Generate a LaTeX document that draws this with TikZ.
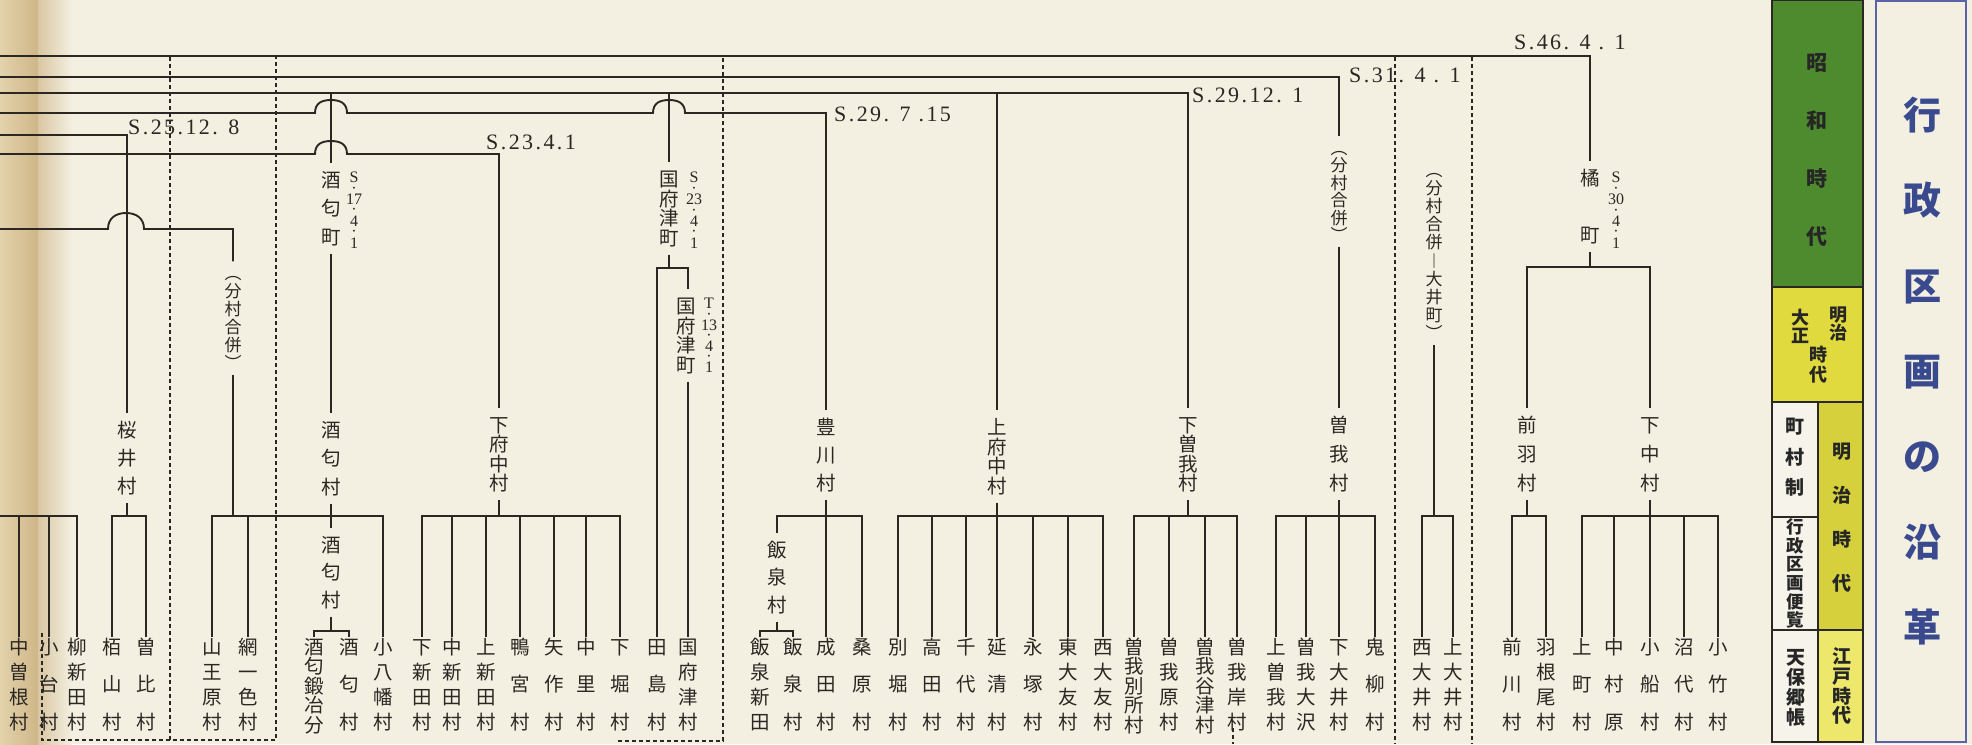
\documentclass[tikz,border=0pt]{standalone}
\usepackage{fontspec}
\newfontfamily\jp{Noto Sans CJK JP}
\newfontfamily\sr{Liberation Serif}
\newfontfamily\srls[LetterSpace=11]{Liberation Serif}
\definecolor{paper}{HTML}{F3EFE1}
\definecolor{ink}{HTML}{2B2824}
\definecolor{tanA}{HTML}{E3D2AC}
\definecolor{tanB}{HTML}{CFB687}
\definecolor{showa}{HTML}{4E8B2F}
\definecolor{taisho}{HTML}{E0DA3E}
\definecolor{meiji}{HTML}{D6D03C}
\definecolor{edo}{HTML}{EDE86C}
\definecolor{ttl}{HTML}{3A4A8E}
\definecolor{ttlb}{HTML}{5A63A6}
\definecolor{pnl}{HTML}{F6F3EA}
\makeatletter
\def\vstrut{\vrule height.88em depth.12em width0pt\relax}
\def\vcw{1.1em}
\newcommand\vc[1]{\hbox to \vcw{\hss\vstrut#1\hss}}
\def\vlabA#1#2{\vc{#1}\ifx\relax#2\expandafter\@gobble\else\vfill\expandafter\vlabA\fi{#2}}
\newcommand\vlab[2]{\vbox to #1{\offinterlineskip\expandafter\vlabA#2\relax\kern0pt}}
\newcommand\vdat[2]{\vbox to #1{\offinterlineskip\def\vcw{1.0em}\def\vstrut{\vrule height.6em depth0pt width0pt\relax}\expandafter\vlabA#2\relax\kern0pt}}
\makeatother
\tikzset{
  ln/.style={draw=ink, line width=1.9pt},
  dsh/.style={draw=ink, line width=1.2pt, dash pattern=on 4pt off 3pt},
  lf/.style={inner sep=0pt, text=ink, font=\jp\fontsize{19.5}{19.5}\selectfont},
  pr/.style={inner xsep=0pt, inner ysep=7pt, text=ink, font=\jp\fontsize{19.5}{19.5}\selectfont},
  pl/.style={inner xsep=0pt, inner ysep=3pt, text=ink, font=\jp\fontsize{17}{17}\selectfont},
  dt/.style={inner sep=0pt, text=ink, font=\sr\fontsize{16}{16}\selectfont},
  hd/.style={inner sep=0pt, anchor=west, text=ink, font=\srls\fontsize{22}{22}\selectfont},
  pn/.style={inner sep=0pt, text=black!85, font=\jp\bfseries\fontsize{19}{19}\selectfont},
  tt/.style={inner sep=0pt, text=ttl, font=\jp\bfseries\fontsize{38}{38}\selectfont},
  pbox/.style={draw=ink, line width=1.2pt},
}
\begin{document}
\begin{tikzpicture}[x=1pt,y=-1pt]
\useasboundingbox (0,0) rectangle (1972,744);
\fill[paper] (0,0) rectangle (1972,744);
\shade[left color=tanA, right color=tanB] (0,0) rectangle (38,744);
\shade[left color=tanB!70!paper, right color=paper] (38,0) rectangle (72,744);

% region borders (dashed)
\draw[dsh] (42,633) -- (42,740) -- (276,740) -- (276,57);
\draw[dsh] (170,57) -- (170,740);
\draw[dsh] (618,741) -- (723,741) -- (723,57);
\draw[dsh] (1233,728) -- (1233,744);
\draw[dsh] (1395,57) -- (1395,744);
\draw[dsh] (1472,57) -- (1472,744);

% coordinates
\coordinate (A0) at (0,56);   \coordinate (A1) at (1590,56);
\coordinate (B0) at (0,77);   \coordinate (B1) at (1339,77);
\coordinate (C0) at (0,93);   \coordinate (C1) at (1188,93);
\coordinate (Ca) at (331,93); \coordinate (Cb) at (669,93); \coordinate (Cc) at (997,93);
\coordinate (D0) at (0,113);  \coordinate (D1) at (826,113);
\coordinate (E0) at (0,135);  \coordinate (E1) at (127,135);
\coordinate (F0) at (0,154);  \coordinate (F1) at (499,154);
\coordinate (G0) at (0,229);  \coordinate (G1) at (233,229);
\coordinate (H0) at (0,516);
\coordinate (bk) at (0,516);
\coordinate (bk2) at (0,631);
\coordinate (bk3) at (0,268);
\coordinate (bk4) at (0,267);

% date labels
\node[hd] (d46) at (1514,42) {S.46. 4 . 1};
\node[hd] (d31) at (1349,75) {S.31. 4 . 1};
\node[hd] (d2912) at (1192,95) {S.29.12. 1};
\node[hd] (d297) at (834,114) {S.29. 7 .15};
\node[hd] (d25) at (128,127) {S.25.12. 8};
\node[hd] (d23) at (486,142) {S.23.4.1};

% leaves
\foreach \nm/\x/\t in {n1/19/中曽根村,n2/49/小台村,n3/77/柳新田村,n4/112/栢山村,n5/146/曽比村,n6/212/山王原村,n7/248/網一色村,n8/383/小八幡村,n9/314/酒匂鍛冶分,n10/349/酒匂村,n11/422/下新田村,n12/452/中新田村,n13/486/上新田村,n14/520/鴨宮村,n15/554/矢作村,n16/586/中里村,n17/620/下堀村,n18/657/田島村,n19/688/国府津村,n20/760/飯泉新田,n21/793/飯泉村,n22/826/成田村,n23/862/桑原村,n24/898/別堀村,n25/932/高田村,n26/966/千代村,n27/997/延清村,n28/1033/永塚村,n29/1068/東大友村,n30/1103/西大友村,n31/1134/曽我別所村,n32/1169/曽我原村,n33/1205/曽我谷津村,n34/1237/曽我岸村,n35/1276/上曽我村,n36/1306/曽我大沢,n37/1339/下大井村,n38/1375/鬼柳村,n39/1422/西大井村,n40/1453/上大井村,n41/1512/前川村,n42/1546/羽根尾村,n43/1582/上町村,n44/1614/中村原,n45/1650/小船村,n46/1684/沼代村,n47/1718/小竹村}
  \node[lf] (\nm) at (\x,684.5) {\vlab{95pt}{\t}};

% parents
\node[pr] (sakurai) at (127,458) {\vlab{76pt}{桜井村}};
\node[pr] (sakA) at (331,458.5) {\vlab{76pt}{酒匂村}};
\node[pr] (sakB) at (331,572.5) {\vlab{74pt}{酒匂村}};
\node[pr] (shimofunaka) at (499,454) {\vlab{78pt}{下府中村}};
\node[pr] (toyokawa) at (826,455) {\vlab{76pt}{豊川村}};
\node[pr] (iizumi) at (777,577.5) {\vlab{74pt}{飯泉村}};
\node[pr] (kamifunaka) at (997,456.5) {\vlab{78pt}{上府中村}};
\node[pr] (shimosoga) at (1188,454) {\vlab{78pt}{下曽我村}};
\node[pr] (soga) at (1339,454) {\vlab{77pt}{曽我村}};
\node[pr] (maeba) at (1527,454) {\vlab{77pt}{前羽村}};
\node[pr] (shimonaka) at (1650,454) {\vlab{77pt}{下中村}};
\node[pr] (sakawamachi) at (331,208.5) {\vlab{76pt}{酒匂町}};
\node[pr] (kozumachi) at (669,208.5) {\vlab{78pt}{国府津町}};
\node[pr] (kozuT) at (686,335.5) {\vlab{78pt}{国府津町}};
\node[pr] (tachi) at (1590,206.5) {\vlab{76pt}{橘町}};
\node[pl] (bunG) at (233,318) {\vlab{107pt}{︵分村合併︶}};
\node[pl] (bunB) at (1339,191.5) {\vlab{104pt}{︵分村合併︶}};
\node[pl] (oi) at (1434,251.5) {\vlab{180pt}{︵分村合併︱大井町︶}};
\node[dt] (dsak) at (354,210) {\vdat{76pt}{S·{17}·4·1}};
\node[dt] (dkoz) at (694,210) {\vdat{76pt}{S·{23}·4·1}};
\node[dt] (dkozT) at (709,335.5) {\vdat{74pt}{T·{13}·4·1}};
\node[dt] (dtachi) at (1616,210) {\vdat{76pt}{S·{30}·4·1}};

% group 1
\draw[ln] (H0) -- (n3.north |- bk) -- (n3.north);
\draw[ln] (n1.north) -- (n1.north |- bk);
\draw[ln] (n2.north) -- (n2.north |- bk);
% sakurai
\draw[ln] (E0) -- (E1) -- (sakurai.north);
\draw[ln] (sakurai.south) -- (sakurai.south |- bk);
\draw[ln] (n4.north) -- (n4.north |- bk) -- (n5.north |- bk) -- (n5.north);
% bunson gappei (left)
\draw[ln] (G0) -- (108,229) .. controls (108,218) and (116,213) .. (126,213) .. controls (136,213) and (144,218) .. (144,229) -- (G1) -- (bunG.north);
\draw[ln] (bunG.south) -- (bunG.south |- bk);
\draw[ln] (n6.north) -- (n6.north |- bk) -- (n8.north |- bk) -- (n8.north);
\draw[ln] (n7.north) -- (n7.north |- bk);
% sakawa
\draw[ln] (Ca) -- (sakawamachi.north);
\draw[ln] (sakawamachi.south) -- (sakA.north);
\draw[ln] (sakA.south) -- (sakB.north);
\draw[ln] (sakB.south) -- (sakB.south |- bk2);
\draw[ln] (n9.north) -- (n9.north |- bk2) -- (n10.north |- bk2) -- (n10.north);
% shimofunaka
\draw[ln] (F0) -- (315,154) .. controls (315,144) and (322,141) .. (331,141) .. controls (340,141) and (347,144) .. (347,154) -- (F1) -- (shimofunaka.north);
\draw[ln] (shimofunaka.south) -- (shimofunaka.south |- bk);
\draw[ln] (n11.north) -- (n11.north |- bk) -- (n17.north |- bk) -- (n17.north);
\foreach \m in {n12,n13,n14,n15,n16} \draw[ln] (\m.north) -- (\m.north |- bk);
% kozu
\draw[ln] (Cb) -- (kozumachi.north);
\draw[ln] (kozumachi.south) -- (kozumachi.south |- bk3);
\draw[ln] (n18.north) -- (n18.north |- bk3) -- (n19.north |- bk3) -- (n19.north |- kozuT.north);
\draw[ln] (n19.north |- kozuT.south) -- (n19.north);
% toyokawa
\draw[ln] (D0) -- (315,113) .. controls (315,103) and (322,100) .. (331,100) .. controls (340,100) and (347,103) .. (347,113) -- (653,113) .. controls (653,103) and (660,100) .. (669,100) .. controls (678,100) and (685,103) .. (685,113) -- (D1) -- (toyokawa.north);
\draw[ln] (toyokawa.south) -- (n22.north);
\draw[ln] (iizumi.north) -- (iizumi.north |- bk) -- (n23.north |- bk) -- (n23.north);
\draw[ln] (iizumi.south) -- (iizumi.south |- bk2);
\draw[ln] (n20.north) -- (n20.north |- bk2) -- (n21.north |- bk2) -- (n21.north);
% kamifunaka
\draw[ln] (Cc) -- (kamifunaka.north);
\draw[ln] (kamifunaka.south) -- (n27.north);
\draw[ln] (n24.north) -- (n24.north |- bk) -- (n30.north |- bk) -- (n30.north);
\foreach \m in {n25,n26,n28,n29} \draw[ln] (\m.north) -- (\m.north |- bk);
% shimosoga
\draw[ln] (C0) -- (C1) -- (shimosoga.north);
\draw[ln] (shimosoga.south) -- (shimosoga.south |- bk);
\draw[ln] (n31.north) -- (n31.north |- bk) -- (n34.north |- bk) -- (n34.north);
\foreach \m in {n32,n33} \draw[ln] (\m.north) -- (\m.north |- bk);
% soga
\draw[ln] (B0) -- (B1) -- (bunB.north);
\draw[ln] (bunB.south) -- (soga.north);
\draw[ln] (soga.south) -- (n37.north);
\draw[ln] (n35.north) -- (n35.north |- bk) -- (n38.north |- bk) -- (n38.north);
\draw[ln] (n36.north) -- (n36.north |- bk);
% oi
\draw[ln] (oi.south) -- (oi.south |- bk);
\draw[ln] (n39.north) -- (n39.north |- bk) -- (n40.north |- bk) -- (n40.north);
% tachibana
\draw[ln] (A0) -- (A1) -- (tachi.north);
\draw[ln] (tachi.south) -- (tachi.south |- bk4);
\draw[ln] (maeba.north) -- (maeba.north |- bk4) -- (shimonaka.north |- bk4) -- (shimonaka.north);
\draw[ln] (maeba.south) -- (maeba.south |- bk);
\draw[ln] (n41.north) -- (n41.north |- bk) -- (n42.north |- bk) -- (n42.north);
\draw[ln] (shimonaka.south) -- (n45.north);
\draw[ln] (n43.north) -- (n43.north |- bk) -- (n47.north |- bk) -- (n47.north);
\foreach \m in {n44,n46} \draw[ln] (\m.north) -- (\m.north |- bk);

% era panel
\fill[showa] (1772,0) rectangle (1863,287);
\fill[taisho] (1772,287) rectangle (1863,402);
\fill[pnl] (1772,402) rectangle (1818,742);
\fill[meiji] (1818,402) rectangle (1863,630);
\fill[edo] (1818,630) rectangle (1863,742);
\draw[pbox] (1772,0.6) -- (1863,0.6);
\draw[pbox] (1772,0) -- (1772,742) -- (1863,742) -- (1863,0);
\draw[pbox] (1772,287) -- (1863,287);
\draw[pbox] (1772,402) -- (1863,402);
\draw[pbox] (1818,402) -- (1818,742);
\draw[pbox] (1772,517) -- (1818,517);
\draw[pbox] (1772,630) -- (1863,630);
\node[pn, font=\jp\bfseries\fontsize{21}{21}\selectfont] (showaT) at (1817,149.5) {\vlab{195pt}{昭和時代}};
\node[pn, font=\jp\bfseries\fontsize{18}{18}\selectfont] (meijiA) at (1838,324) {\vlab{36pt}{明治}};
\node[pn, font=\jp\bfseries\fontsize{18}{18}\selectfont] (taishoT) at (1800,326.5) {\vlab{36pt}{大正}};
\node[pn, font=\jp\bfseries\fontsize{18}{18}\selectfont] (jidaiA) at (1818,365) {\vlab{38pt}{時代}};
\node[pn] (chosonsei) at (1795,457) {\vlab{80pt}{町村制}};
\node[pn, font=\jp\bfseries\fontsize{17.5}{17.5}\selectfont] (gyosei) at (1795,573.5) {\vlab{111pt}{行政区画便覧}};
\node[pn] (tempo) at (1796,687.5) {\vlab{79pt}{天保郷帳}};
\node[pn] (meijiT) at (1842,517.5) {\vlab{151pt}{明治時代}};
\node[pn] (edoT) at (1842,686) {\vlab{78pt}{江戸時代}};

% title
\draw[ttlb, line width=1.3pt] (1876,1) rectangle (1966,742);
\node[tt] (title) at (1922,371) {\vlab{550pt}{行政区画の沿革}};
\end{tikzpicture}
\end{document}
